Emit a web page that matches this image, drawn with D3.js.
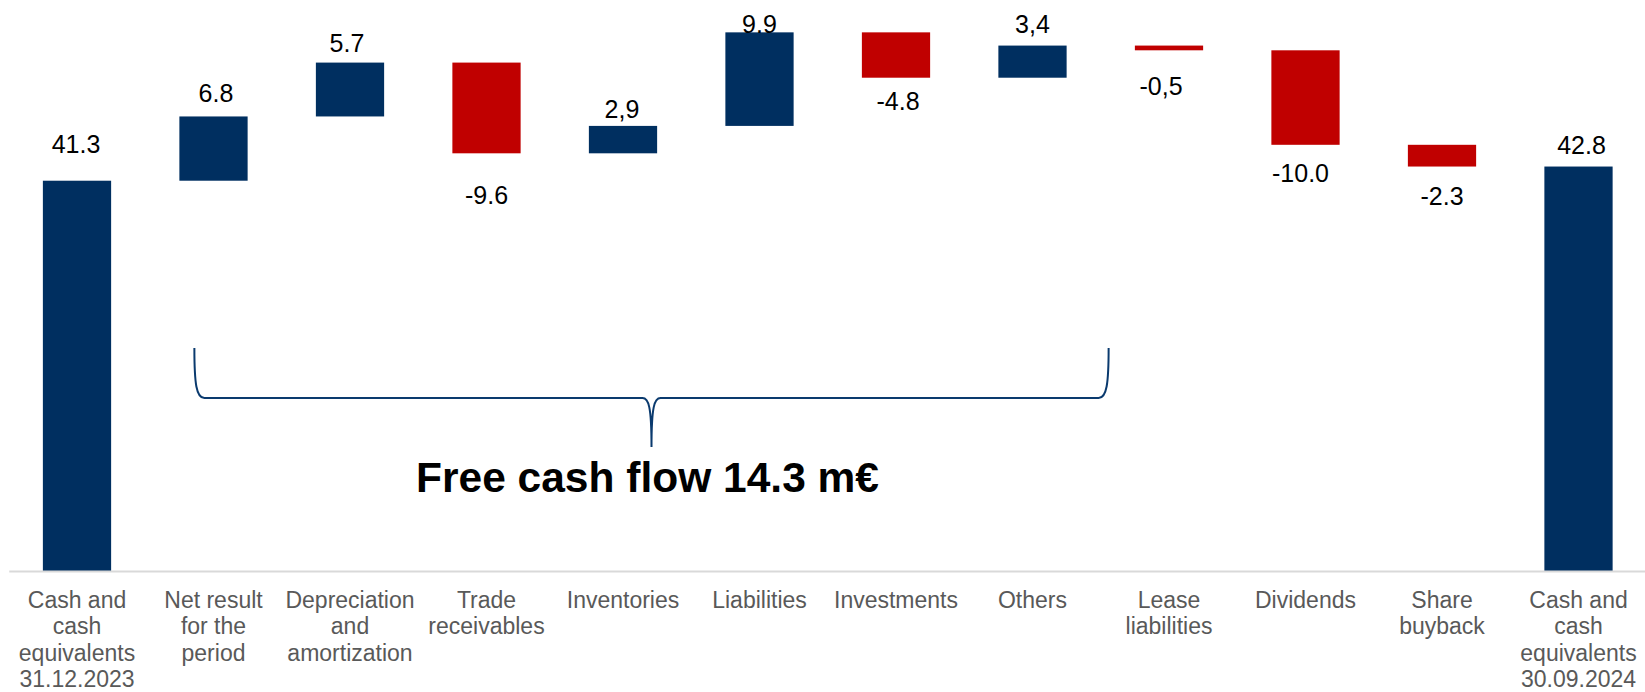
<!DOCTYPE html>
<html>
<head>
<meta charset="utf-8">
<script src="https://cdn.jsdelivr.net/npm/d3@7"></script>
<style>
  html, body { margin: 0; padding: 0; background: #ffffff; }
  svg { display: block; font-family: "Liberation Sans", Arial, sans-serif; }
</style>
</head>
<body>
<svg id="chart" width="1645" height="692"></svg>
<script>
// Cash bridge, m€
const categories = [
  "Cash and\ncash\nequivalents\n31.12.2023",
  "Net result\nfor the\nperiod",
  "Depreciation\nand\namortization",
  "Trade\nreceivables",
  "Inventories",
  "Liabilities",
  "Investments",
  "Others",
  "Lease\nliabilities",
  "Dividends",
  "Share\nbuyback",
  "Cash and\ncash\nequivalents\n30.09.2024"
];
const kinds = ["total", "delta", "delta", "delta", "delta", "delta", "delta", "delta", "delta", "delta", "delta", "total"];
const values = [41.3, 6.8, 5.7, -9.6, 2.9, 9.9, -4.8, 3.4, -0.5, -10.0, -2.3, 42.8];
const valueLabels = ["41.3", "6.8", "5.7", "-9.6", "2,9", "9.9", "-4.8", "3,4", "-0,5", "-10.0", "-2.3", "42.8"];
const freeCashFlowLabel = "Free cash flow 14.3 m€";

// label placement: gap (px) from the bar end, horizontal nudge (px)
const labelGap = [28, 14, 11, 51, 8, -1, 32, 12.5, 45, 37, 38, 12.5];
const labelNudge = [-1, 2.5, -3, 0, -1, 0, 2, 0, -8, -5, 0, 3];

const NAVY = "#002F60";
const RED = "#C00000";

// running totals -> bar extents
let running = 0;
const bars = values.map((v, i) => {
  let y0, y1;
  if (kinds[i] === "total") {
    y0 = 0; y1 = v; running = v;
  } else {
    y0 = running; y1 = running + v; running = y1;
  }
  return { cat: categories[i], value: v, label: valueLabels[i], lo: Math.min(y0, y1), hi: Math.max(y0, y1), i };
});

const svg = d3.select("#chart");

const x = d3.scaleBand()
  .domain(categories)
  .range([8.75, 1646.75])
  .paddingInner(0.5)
  .paddingOuter(0.25);

const y = d3.scaleLinear()
  .domain([0, 60])
  .range([571, 4]);

// bars
svg.append("g")
  .selectAll("rect")
  .data(bars)
  .join("rect")
  .attr("x", d => x(d.cat))
  .attr("width", x.bandwidth())
  .attr("y", d => y(d.hi))
  .attr("height", d => y(d.lo) - y(d.hi))
  .attr("fill", d => (d.value < 0 ? RED : NAVY));

// value labels
svg.append("g")
  .selectAll("text")
  .data(bars)
  .join("text")
  .attr("x", d => x(d.cat) + x.bandwidth() / 2 + labelNudge[d.i])
  .attr("y", d => d.value < 0 ? y(d.lo) + labelGap[d.i] : y(d.hi) - labelGap[d.i])
  .attr("text-anchor", "middle")
  .attr("font-size", 25)
  .attr("fill", "#000")
  .text(d => d.label);

// category axis
const axis = svg.append("g")
  .attr("transform", "translate(0,571)")
  .call(d3.axisBottom(x).tickSize(0).tickSizeOuter(0));

axis.select(".domain")
  .attr("stroke", "#D9D9D9")
  .attr("stroke-width", 2);

axis.selectAll(".tick text")
  .attr("font-size", 23)
  .attr("font-family", "Liberation Sans, Arial, sans-serif")
  .attr("fill", "#595959")
  .attr("dy", null)
  .attr("y", 0)
  .each(function (d) {
    const t = d3.select(this);
    t.text(null);
    d.split("\n").forEach((line, k) => {
      t.append("tspan")
        .attr("x", 0)
        .attr("y", 37 + k * 26.3)
        .text(line);
    });
  });

// free cash flow brace spanning the operating items
const braceL = x(categories[1]) + 15;
const braceR = x(categories[7]) + x.bandwidth() + 42;
const braceMid = (braceL + braceR) / 2;
const bTop = 348, bBar = 398, bTip = 447;

const bracePath = d3.path();
bracePath.moveTo(braceL, bTop);
bracePath.bezierCurveTo(braceL, bBar - 14, braceL + 2, bBar, braceL + 10, bBar);
bracePath.lineTo(braceMid - 9, bBar);
bracePath.bezierCurveTo(braceMid - 3, bBar, braceMid, bBar + 8, braceMid, bTip);
bracePath.moveTo(braceR, bTop);
bracePath.bezierCurveTo(braceR, bBar - 14, braceR - 2, bBar, braceR - 10, bBar);
bracePath.lineTo(braceMid + 9, bBar);
bracePath.bezierCurveTo(braceMid + 3, bBar, braceMid, bBar + 8, braceMid, bTip);

svg.append("path")
  .attr("d", bracePath.toString())
  .attr("fill", "none")
  .attr("stroke", "#0A3A6E")
  .attr("stroke-width", 2);

svg.append("text")
  .attr("x", braceMid - 4)
  .attr("y", 492)
  .attr("text-anchor", "middle")
  .attr("font-size", 42.5)
  .attr("font-weight", "bold")
  .attr("fill", "#000")
  .text(freeCashFlowLabel);
</script>
</body>
</html>
